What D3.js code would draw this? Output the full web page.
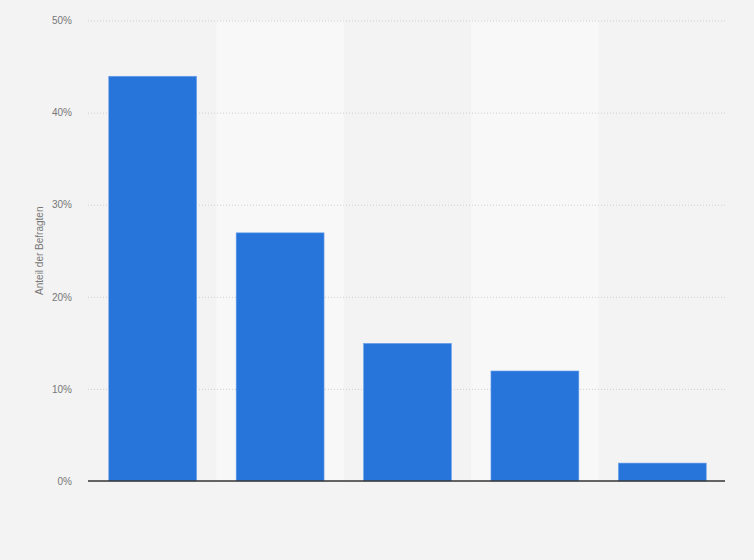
<!DOCTYPE html>
<html>
<head>
<meta charset="utf-8">
<script src="https://cdn.jsdelivr.net/npm/d3@7"></script>
<style>
  body { margin: 0; background: #f3f3f3; }
  svg { display: block; font-family: "Liberation Sans", Arial, sans-serif; }
</style>
</head>
<body>
<svg id="chart" width="754" height="560"></svg>
<script>
// categories are not labelled in the picture
var categories = ["1", "2", "3", "4", "5"];
var values = [44, 27, 15, 12, 2];
var yTicks = [0, 10, 20, 30, 40, 50];
var yTitle = "Anteil der Befragten";

var margin = {left: 88, right: 29, top: 20.5, bottom: 79};
var width = 754, height = 560;

var svg = d3.select("#chart");

var xScale = d3.scaleBand().domain(categories)
    .range([margin.left + 1, width - margin.right + 1])
    .paddingInner(0.31).paddingOuter(0.155);
var yScale = d3.scaleLinear().domain([0, 50])
    .range([height - margin.bottom, margin.top]);

// alternating column backgrounds
var step = xScale.step();
svg.append("g").selectAll("rect")
   .data(categories.filter(function(d, i){ return i % 2 == 1 }))
   .enter().append("rect")
   .attr("x", function(d){ return xScale(d) - xScale.paddingInner() * step / 2 })
   .attr("width", step)
   .attr("y", yScale(50))
   .attr("height", yScale(0) - yScale(50))
   .attr("fill", "#f8f8f8");

// grid lines
svg.append("g").selectAll("line")
   .data(yTicks.slice(1))
   .enter().append("line")
   .attr("x1", margin.left).attr("x2", width - margin.right)
   .attr("y1", function(d){ return yScale(d) + 0.5 })
   .attr("y2", function(d){ return yScale(d) + 0.5 })
   .attr("stroke", "#cfcfcf")
   .attr("stroke-width", 1)
   .attr("stroke-dasharray", "1,2");

// y axis labels
var yAxis = d3.axisLeft(yScale).tickValues(yTicks)
    .tickFormat(function(d){ return d + "%" }).tickSize(0).tickPadding(16);
var yg = svg.append("g")
   .attr("transform", "translate(" + margin.left + ",0)")
   .call(yAxis);
yg.select(".domain").remove();
yg.selectAll("text").attr("fill", "#777").attr("font-size", "10px")
  .attr("font-family", "Liberation Sans, Arial, sans-serif");

// bars
svg.append("g").selectAll("rect")
   .data(values)
   .enter().append("rect")
   .attr("x", function(d, i){ return xScale(categories[i]) })
   .attr("width", xScale.bandwidth())
   .attr("y", function(d){ return yScale(d) + 0.5 })
   .attr("height", function(d){ return yScale(0) - yScale(d) - 0.5 })
   .attr("fill", "#2775db")
   .attr("stroke", "#6fa3ec")
   .attr("stroke-width", 0.6);

// baseline
svg.append("line")
   .attr("x1", margin.left).attr("x2", width - margin.right)
   .attr("y1", yScale(0)).attr("y2", yScale(0))
   .attr("stroke", "#333")
   .attr("stroke-width", 1.5);

// y title
svg.append("text")
   .attr("transform", "translate(43," + (margin.top + yScale(0)) / 2 + ") rotate(-90)")
   .attr("text-anchor", "middle")
   .attr("fill", "#777")
   .attr("font-size", "10px")
   .text(yTitle);
</script>
</body>
</html>
